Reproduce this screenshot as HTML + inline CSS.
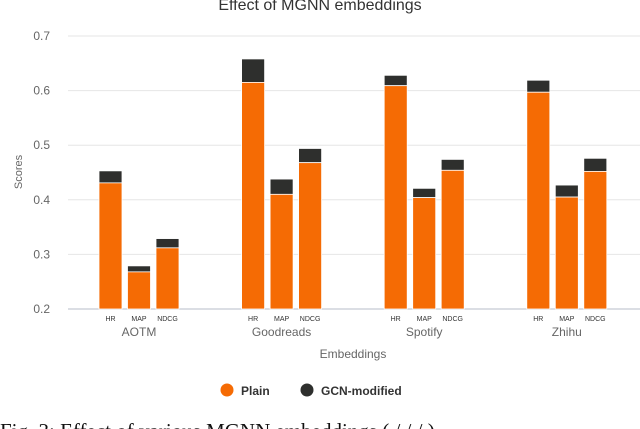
<!DOCTYPE html>
<html><head><meta charset="utf-8"><style>
html,body{margin:0;padding:0;background:#fff;width:640px;height:429px;overflow:hidden}
svg text{font-family:"Liberation Sans",sans-serif}
</style></head><body>
<svg width="640" height="429" viewBox="0 0 640 429" xmlns="http://www.w3.org/2000/svg">
<text x="320" y="10" text-anchor="middle" font-size="16" fill="#333">Effect of MGNN embeddings</text>
<g id="grid"></g>
<g id="bars"></g>
<g id="xlabels"></g>
<text x="22" y="172" transform="rotate(-90 22 172)" text-anchor="middle" font-size="11" fill="#666">Scores</text>
<text x="353" y="358" text-anchor="middle" font-size="12" fill="#666">Embeddings</text>
<g>
<circle cx="227" cy="390" r="6.5" fill="#f56b04"/>
<text x="241" y="395" font-size="12" font-weight="bold" fill="#333">Plain</text>
<circle cx="307" cy="390" r="6.5" fill="#2e2f2d"/>
<text x="321" y="395" font-size="12" font-weight="bold" fill="#333">GCN-modified</text>
</g>
<text x="0" y="438" font-size="21" fill="#111" style="font-family:'Liberation Serif',serif">Fig. 3:  Effect of various MGNN embeddings (  /  /  / )</text>
</svg>
<script>
const groups=["AOTM","Goodreads","Spotify","Zhihu"];
const metrics=["HR","MAP","NDCG"];
const plainVals=[[0.431,0.268,0.312],[0.615,0.410,0.468],[0.609,0.404,0.454],[0.597,0.405,0.452]];
const gcnVals=[[0.453,0.279,0.329],[0.658,0.438,0.494],[0.628,0.421,0.474],[0.619,0.427,0.476]];
const yTicks=[0.2,0.3,0.4,0.5,0.6,0.7];
const NS="http://www.w3.org/2000/svg";
const y=v=>309-(v-0.2)*546;
const groupX=g=>99+g*142.6;
const barX=(g,m)=>groupX(g)+m*28.5;
const bw=23;
function mk(tag,attrs,parent){const e=document.createElementNS(NS,tag);for(const k in attrs)e.setAttribute(k,attrs[k]);parent.appendChild(e);return e;}
const grid=document.getElementById('grid');
yTicks.forEach(t=>{
 const l=mk('line',{x1:68,x2:640,y1:y(t),y2:y(t),stroke:t===0.2?'#cfd3dc':'#e6e6e6','stroke-width':t===0.2?1.5:1},grid);
 
 
 const tx=mk('text',{x:50,y:y(t)+4,'text-anchor':'end','font-size':12,fill:'#666'},grid);
 tx.textContent=t.toFixed(1);
 
 
});
const bars=document.getElementById('bars'),xl=document.getElementById('xlabels');
groups.forEach((gn,g)=>{
 metrics.forEach((mn,m)=>{
  const x=barX(g,m),p=plainVals[g][m],c=gcnVals[g][m];
  const gc=mk('rect',{x:x,y:y(c),width:bw,height:y(p)-y(c),fill:'#2e2f2d',stroke:'#fff','stroke-width':0.8},bars);
  
  
  const pr=mk('rect',{x:x,y:y(p),width:bw,height:y(0.2)-y(p),fill:'#f56b04',stroke:'#fff','stroke-width':0.8},bars);
  
  
  const t=mk('text',{x:x+bw/2,y:321,'text-anchor':'middle','font-size':7,fill:'#333'},xl);
  t.textContent=mn;
  
  
 });
 const t=mk('text',{x:barX(g,1)+bw/2,y:336,'text-anchor':'middle','font-size':12,fill:'#666'},xl);
 t.textContent=gn;
 
 
});
</script>
</body></html>
